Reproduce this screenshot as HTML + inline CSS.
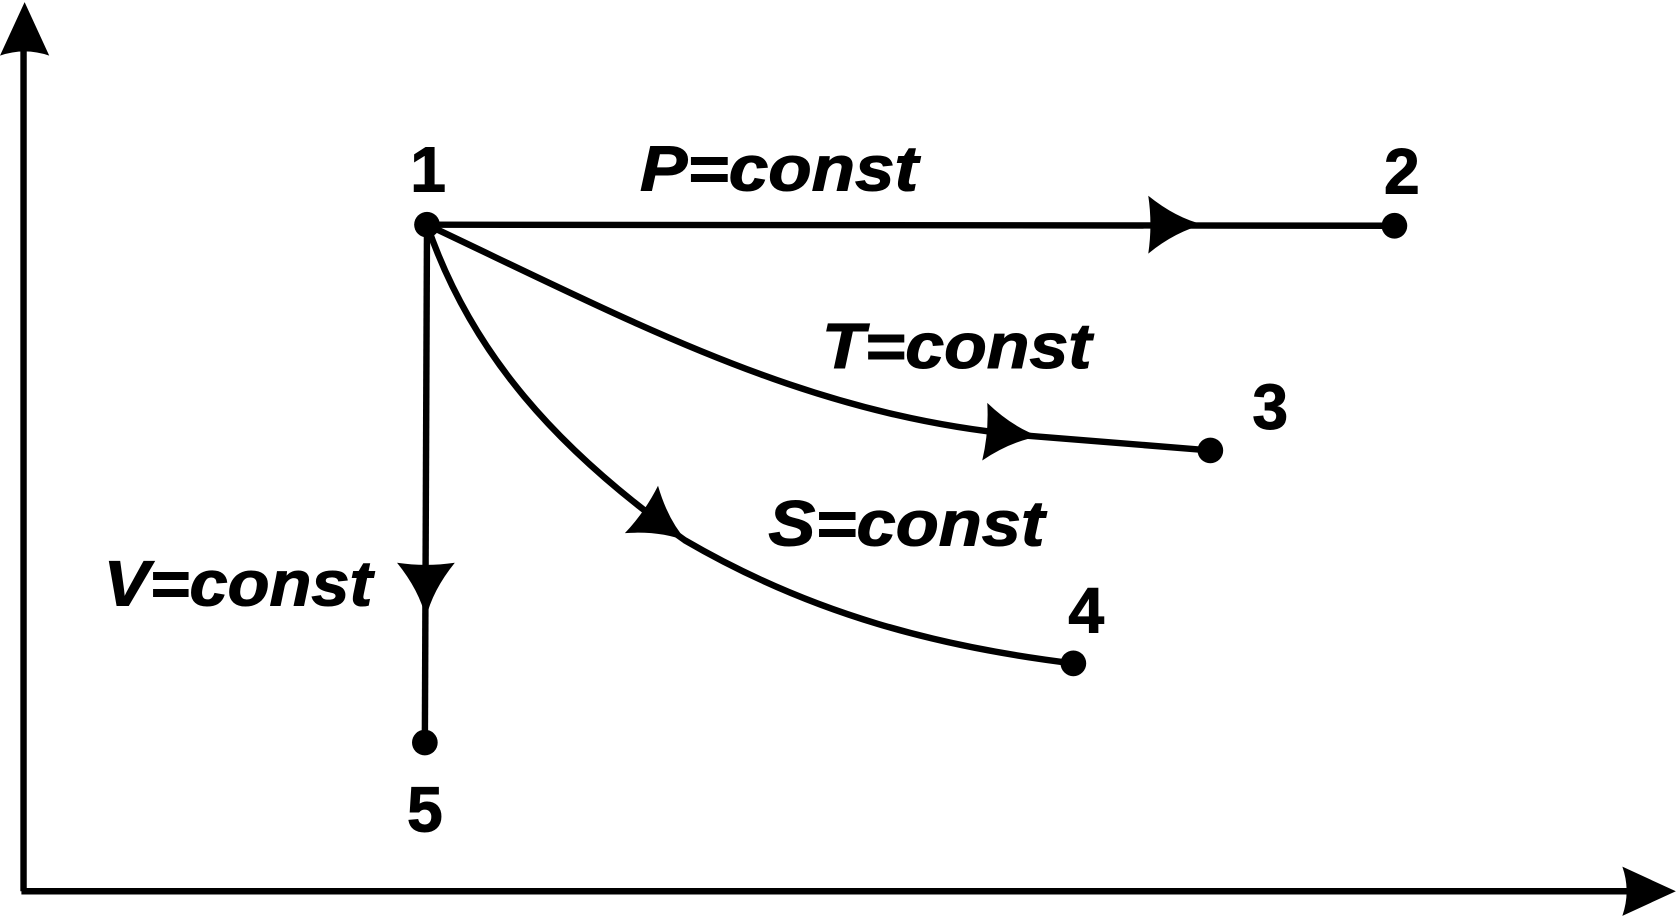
<!DOCTYPE html>
<html><head><style>html,body{margin:0;padding:0;background:#fff;}svg{display:block}</style></head>
<body>
<svg width="1678" height="918" viewBox="0 0 1568 858" preserveAspectRatio="none" xmlns="http://www.w3.org/2000/svg">
<defs>
<path id="ah" d="M0,0 Q-26,-6 -52,-27 Q-48,0 -52,27 Q-26,6 0,0 Z" fill="#000"/>
<path id="ax" d="M0,0 L-50,-23 Q-42,0 -50,23 Z" fill="#000"/>
</defs>
<g stroke="#000" stroke-width="6" fill="none">
<line x1="22" y1="40" x2="22" y2="833"/>
<line x1="20" y1="833" x2="1535" y2="833"/>
<line x1="399" y1="210" x2="1303" y2="211"/>
<line x1="399" y1="210" x2="397" y2="694"/>
<path d="M399,210 C600,305 760,392 970,408 L1131,421"/>
<path d="M399,210 C440,330 520,420 640,505 C760,575 880,605 1003,620"/>
</g>
<use href="#ax" transform="translate(23,2) rotate(-90)"/>
<use href="#ax" transform="translate(1566,833)"/>
<use href="#ah" transform="translate(1125,210)"/>
<use href="#ah" transform="translate(972,408) rotate(5)"/>
<use href="#ah" transform="translate(642,506) rotate(35)"/>
<use href="#ah" transform="translate(398,578) rotate(90)"/>
<g fill="#000">
<circle cx="399" cy="210" r="12"/>
<circle cx="1303" cy="211" r="12"/>
<circle cx="1131" cy="421" r="12"/>
<circle cx="1003" cy="620" r="12"/>
<circle cx="397" cy="694" r="12"/>
</g>
<g font-family="Liberation Sans, sans-serif" font-weight="bold" font-size="60" fill="#000" stroke="#000" stroke-width="1">
<text x="400" y="179" text-anchor="middle">1</text>
<text x="1310" y="181" text-anchor="middle">2</text>
<text x="1187" y="401" text-anchor="middle">3</text>
<text x="1015" y="591" text-anchor="middle">4</text>
<text x="397" y="777" text-anchor="middle">5</text>
<g font-style="italic">
<text x="598" y="178" textLength="260" lengthAdjust="spacingAndGlyphs">P=const</text>
<text x="768" y="344" textLength="252" lengthAdjust="spacingAndGlyphs">T=const</text>
<text x="718" y="510" textLength="258" lengthAdjust="spacingAndGlyphs">S=const</text>
<text x="97" y="566" textLength="251" lengthAdjust="spacingAndGlyphs">V=const</text>
</g>
</g>
</svg>
</body></html>
